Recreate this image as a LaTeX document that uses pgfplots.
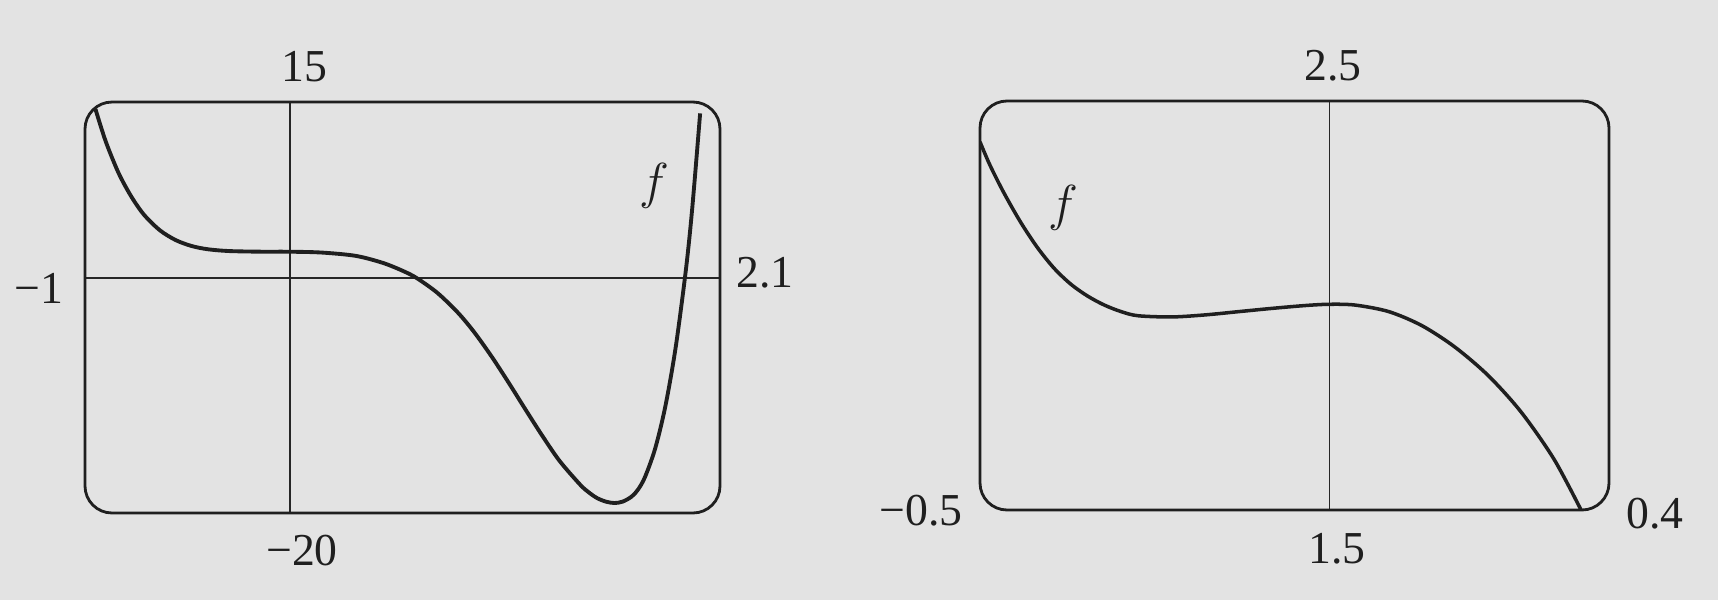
\documentclass[border=0pt]{standalone}
\usepackage{fontspec}
\setmainfont{Liberation Serif}
\usepackage{pgfplots}
\pgfplotsset{compat=1.18}
\begin{document}
\begin{tikzpicture}[x=1cm,y=1cm]
\fill[black!11] (0,0) rectangle (17.18,6);
% ---------- left window ----------
\begin{axis}[name=L, at={(0.85cm,0.87cm)}, anchor=south west, scale only axis,
  width=6.35cm, height=4.11cm, xmin=-1, xmax=2.1, ymin=-20, ymax=15,
  axis line style={draw=none}, ticks=none]
\addplot[black!85, line width=0.55pt] coordinates {(-1,0) (2.1,0)};
\addplot[black!85, line width=0.55pt] coordinates {(0,-20) (0,15)};
\addplot[black!88, line width=1.1pt, smooth, no marks] coordinates {
(-0.949,14.4) (-0.899,11.65) (-0.836,8.95) (-0.774,6.95) (-0.712,5.4)
(-0.634,4.07) (-0.556,3.23) (-0.478,2.73) (-0.400,2.46) (-0.300,2.31) (-0.150,2.255)
(0.000,2.25) (0.155,2.18) (0.321,1.90) (0.454,1.30) (0.554,0.60)
(0.620,0.00) (0.720,-1.25) (0.820,-2.93) (0.900,-4.60) (0.986,-6.70)
(1.070,-8.95) (1.152,-11.23) (1.235,-13.49) (1.318,-15.59) (1.418,-17.60)
(1.460,-18.25) (1.501,-18.74) (1.545,-19.04) (1.585,-19.15) (1.625,-19.03)
(1.668,-18.61) (1.700,-18.00) (1.734,-16.93) (1.784,-14.48) (1.834,-10.85)
(1.884,-5.85) (1.934,0.78) (1.965,6.05) (2.003,14.03)};
\node[black!88] at (axis cs:1.78,7.9) {\fontsize{14}{16}\selectfont$f$};
\end{axis}
\draw[black!88, line width=0.8pt, rounded corners=0.27cm] (L.south west) rectangle (L.north east);
% ---------- right window ----------
\begin{axis}[name=R, at={(9.80cm,0.90cm)}, anchor=south west, scale only axis,
  width=6.29cm, height=4.09cm, xmin=-0.5, xmax=0.4, ymin=1.5, ymax=2.5,
  axis line style={draw=none}, ticks=none]
\addplot[black!85, line width=0.55pt] coordinates {(0,1.5) (0,2.5)};
\addplot[black!88, line width=1.0pt, smooth, no marks] coordinates {
(-0.500,2.400) (-0.486,2.344) (-0.466,2.276) (-0.442,2.204) (-0.418,2.142)
(-0.394,2.091) (-0.370,2.052) (-0.346,2.023) (-0.322,2.001) (-0.298,1.985)
(-0.274,1.975) (-0.226,1.972) (-0.178,1.977) (-0.130,1.985) (-0.082,1.993)
(-0.034,2.000) (0.000,2.003) (0.037,2.001) (0.085,1.985) (0.132,1.951)
(0.179,1.899) (0.227,1.829) (0.274,1.740) (0.321,1.625) (0.360,1.500)};
\node[black!88] at (axis cs:-0.38,2.238) {\fontsize{14}{16}\selectfont$f$};
\end{axis}
\draw[black!88, line width=0.8pt, rounded corners=0.27cm] (R.south west) rectangle (R.north east);
% ---------- window labels ----------
\begin{scope}[every node/.style={black!88, font=\fontsize{13}{15}\selectfont, inner sep=0pt}]
\node at (3.04,5.33) {15};
\node at (3.02,0.49) {−20};
\node[anchor=east] at (0.64,3.12) {−1};
\node at (7.65,3.27) {2.1};
\node at (13.33,5.34) {2.5};
\node at (13.37,0.51) {1.5};
\node[anchor=east] at (9.63,0.89) {−0.5};
\node at (16.55,0.86) {0.4};
\end{scope}
\end{tikzpicture}
\end{document}
